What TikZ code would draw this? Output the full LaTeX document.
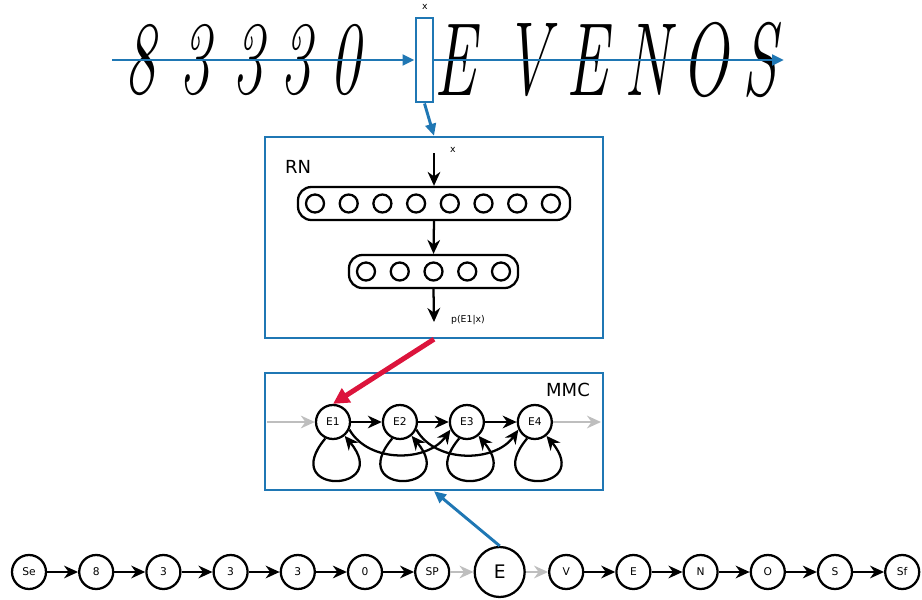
\documentclass[tikz,border=0pt]{standalone}
\usepackage{fontspec}
\setsansfont{DejaVu Sans}
\usepackage{tikz}
\usetikzlibrary{arrows.meta, positioning, calc}
\usepackage{xcolor}
\definecolor{winblue}{RGB}{31,119,180}
\definecolor{crimsonred}{RGB}{220,20,60}
\definecolor{lightgrey}{RGB}{190,190,190}
\tikzstyle{arrow} = [line width=1.7pt,-{Stealth[length=10.5pt,width=9.5pt]}]
\newcommand{\handchar}[1]{\scalebox{0.6}[1]{#1}}

\begin{document}
\begin{tikzpicture}[x=0.75pt, y=0.75pt, every node/.style={font=\sffamily, align=center}]
    % Define styles with \tikzset
    \tikzset{
        state/.style={circle, draw=black, line width=1.7pt, minimum size=25.5pt, inner sep=0pt, font=\sffamily\fontsize{8}{9}\selectfont},
        bigstate/.style={state, minimum size=37.5pt, font=\sffamily\fontsize{14}{16}\selectfont},
        neuron/.style={circle, draw=black, line width=1.7pt, minimum size=13.5pt, inner sep=0pt},
        layer/.style={rectangle, rounded corners=10pt, draw=black, line width=1.7pt, minimum height=24.75pt, inner sep=0pt},
        panel/.style={rectangle, draw=winblue, line width=1.8pt, minimum width=253.5pt, inner sep=0pt},
        blue_arrow/.style={draw=winblue, line width=2.2pt, -{Triangle[length=9pt,width=8pt]}},
        grey_arrow/.style={arrow, draw=lightgrey},
        red_arrow/.style={draw=crimsonred, line width=3.75pt, -{Triangle[length=12pt,width=12pt]}},
        hand/.style={font=\rmfamily\itshape\fontsize{78}{78}\selectfont, inner sep=0pt},
        small_label/.style={font=\sffamily\fontsize{7}{8}\selectfont, inner sep=1pt},
        title_label/.style={font=\sffamily\fontsize{13.5}{15}\selectfont}
    }
    \useasboundingbox (0,0) rectangle (922,-600);

    % --- HANDWRITTEN LINE ---
    \node (h1) [hand] at (140,-60) {\handchar{8}};
    \node (h2) [hand] at (195,-60) {\handchar{3}};
    \node (h3) [hand] at (248,-60) {\handchar{3}};
    \node (h4) [hand] at (296,-60) {\handchar{3}};
    \node (h5) [hand] at (345,-60) {\handchar{0}};
    \node (h6) [hand] at (455,-60) {\handchar{E}};
    \node (h7) [hand] at (527,-60) {\handchar{V}};
    \node (h8) [hand] at (587,-60) {\handchar{E}};
    \node (h9) [hand] at (647,-60) {\handchar{N}};
    \node (h10) [hand] at (705,-60) {\handchar{O}};
    \node (h11) [hand] at (760,-60) {\handchar{S}};

    % sliding window
    \node (win) [rectangle, draw=winblue, line width=2.2pt, minimum width=12.75pt, minimum height=63pt, inner sep=0pt] at (424.5,-60) {};
    \node (winx) [small_label] at (425,-7) {x};
    \coordinate (lineStart) at (112,-60);
    \coordinate (lineEnd) at (784,-60);
    \draw[blue_arrow] (lineStart) -- (win.west);
    \draw[blue_arrow] (win.east) -- (lineEnd);

    % --- RN (NEURAL NETWORK) ---
    \node (rn) [panel, minimum height=150.75pt] at (434,-237.5) {};
    \node (rnlabel) [title_label] at (298,-167) {RN};
    \node (layer1) [layer, minimum width=204pt] at (434,-203.5) {};
    \node (layer2) [layer, minimum width=126.75pt] at (433.5,-271.5) {};
    \foreach \i in {1,...,8}
        \node (n\i) [neuron] at ({315+33.7*(\i-1)},-203.5) {};
    \foreach \i in {1,...,5}
        \node (m\i) [neuron] at ({366+33.75*(\i-1)},-271.5) {};
    \coordinate (xin) at (434,-153);
    \coordinate (pout) at (434,-322);
    \node (xlabel) [small_label] at (453,-150) {x};
    \node (plabel) [small_label] at (468,-320) {p(E1|x)};
    \draw[arrow] (xin) -- (layer1.north);
    \draw[arrow] (layer1.south) -- (layer2.north);
    \draw[arrow] (layer2.south) -- (pout);
    \draw[blue_arrow] (win.south) -- (rn.north);

    % --- MMC (MARKOV CHAIN) ---
    \node (mmc) [panel, minimum height=87.75pt] at (434,-431.5) {};
    \node (mmclabel) [title_label] at (568,-390) {MMC};
    \node (e1) [state] at (333,-422) {E1};
    \node (e2) [state, right=23pt of e1] {E2};
    \node (e3) [state, right=23pt of e2] {E3};
    \node (e4) [state, right=23.75pt of e3] {E4};
    \coordinate (mmcin) at (267,-422);
    \coordinate (mmcout) at (601,-422);

    \draw[grey_arrow] (mmcin) -- (e1);
    \draw[arrow] (e1) -- (e2);
    \draw[arrow] (e2) -- (e3);
    \draw[arrow] (e3) -- (e4);
    \draw[grey_arrow] (e4) -- (mmcout);
    \draw[arrow] (e1.-25) to[out=-60, in=-125] (e3.-155);
    \draw[arrow] (e2.-25) to[out=-60, in=-125] (e4.-155);
    \draw[arrow] (e1.-115) .. controls +(-130:75) and +(-50:75) .. (e1.-50);
    \draw[arrow] (e2.-115) .. controls +(-130:75) and +(-50:75) .. (e2.-50);
    \draw[arrow] (e3.-115) .. controls +(-130:75) and +(-50:75) .. (e3.-50);
    \draw[arrow] (e4.-115) .. controls +(-130:75) and +(-50:75) .. (e4.-50);
    \draw[red_arrow] (rn.south) -- (e1.north);

    % --- CHARACTER SEQUENCE ---
    \node (se) [state] at (29,-572) {Se};
    \node (c8) [state, right=23.2pt of se] {8};
    \node (c3a) [state, right=23.2pt of c8] {3};
    \node (c3b) [state, right=23.2pt of c3a] {3};
    \node (c3c) [state, right=23.2pt of c3b] {3};
    \node (c0) [state, right=23.2pt of c3c] {0};
    \node (sp) [state, right=23.2pt of c0] {SP};
    \node (ebig) [bigstate, right=17.4pt of sp] {E};
    \node (cv) [state, right=16.7pt of ebig] {V};
    \node (ce) [state, right=23.2pt of cv] {E};
    \node (cn) [state, right=23.2pt of ce] {N};
    \node (co) [state, right=23.2pt of cn] {O};
    \node (cs) [state, right=23.2pt of co] {S};
    \node (sf) [state, right=23.2pt of cs] {Sf};

    \draw[arrow] (se) -- (c8);
    \draw[arrow] (c8) -- (c3a);
    \draw[arrow] (c3a) -- (c3b);
    \draw[arrow] (c3b) -- (c3c);
    \draw[arrow] (c3c) -- (c0);
    \draw[arrow] (c0) -- (sp);
    \draw[grey_arrow] (sp) -- (ebig);
    \draw[grey_arrow] (ebig) -- (cv);
    \draw[arrow] (cv) -- (ce);
    \draw[arrow] (ce) -- (cn);
    \draw[arrow] (cn) -- (co);
    \draw[arrow] (co) -- (cs);
    \draw[arrow] (cs) -- (sf);

    % --- LINK TO MMC ---
    \draw[blue_arrow] (ebig.north) -- (mmc.south);

\end{tikzpicture}
\end{document}
